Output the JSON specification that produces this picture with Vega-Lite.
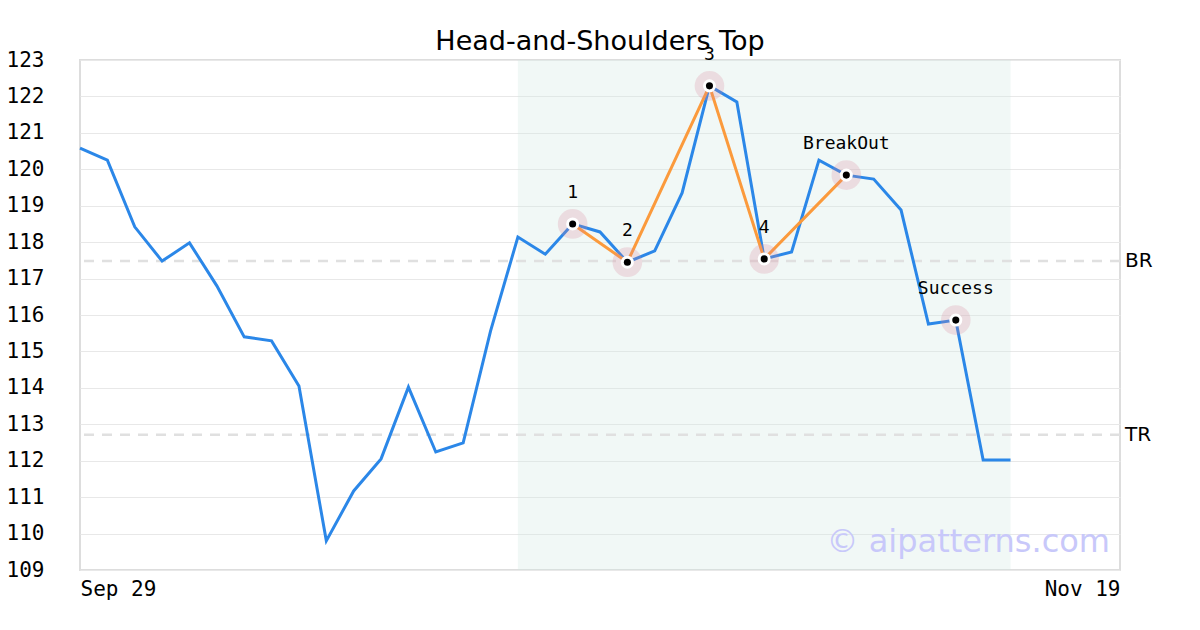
{
  "$schema": "https://vega.github.io/schema/vega-lite/v6.json",
  "width": 1040,
  "height": 510,
  "autosize": "none",
  "padding": {"left": 80, "top": 60, "right": 80, "bottom": 60},
  "background": "white",
  "title": {"text": "Head-and-Shoulders Top", "font": "DejaVu Sans", "fontSize": 27, "fontWeight": "normal", "color": "black", "anchor": "middle", "offset": -10},
  "config": {
    "view": {"stroke": "#dddddd", "strokeWidth": 2},
    "axis": {"labelFont": "DejaVu Sans Mono", "labelFontSize": 21, "labelColor": "black", "ticks": false, "domain": false, "title": null, "labelOverlap": false}
  },
  "datasets": {
    "price": [
      {"i": 0, "v": 120.58}, {"i": 1, "v": 120.25}, {"i": 2, "v": 118.42}, {"i": 3, "v": 117.48},
      {"i": 4, "v": 117.98}, {"i": 5, "v": 116.8}, {"i": 6, "v": 115.4}, {"i": 7, "v": 115.29},
      {"i": 8, "v": 114.05}, {"i": 9, "v": 109.8}, {"i": 10, "v": 111.17}, {"i": 11, "v": 112.05},
      {"i": 12, "v": 114.02}, {"i": 13, "v": 112.24}, {"i": 14, "v": 112.49}, {"i": 15, "v": 115.56},
      {"i": 16, "v": 118.14}, {"i": 17, "v": 117.67}, {"i": 18, "v": 118.5}, {"i": 19, "v": 118.28},
      {"i": 20, "v": 117.45}, {"i": 21, "v": 117.76}, {"i": 22, "v": 119.35}, {"i": 23, "v": 122.29},
      {"i": 24, "v": 121.85}, {"i": 25, "v": 117.54}, {"i": 26, "v": 117.73}, {"i": 27, "v": 120.25},
      {"i": 28, "v": 119.84}, {"i": 29, "v": 119.73}, {"i": 30, "v": 118.88}, {"i": 31, "v": 115.75},
      {"i": 32, "v": 115.86}, {"i": 33, "v": 112.02}, {"i": 34, "v": 112.02}
    ],
    "pattern": [
      {"i": 18, "v": 118.5, "label": "1", "link": true},
      {"i": 20, "v": 117.45, "label": "2", "link": true},
      {"i": 23, "v": 122.29, "label": "3", "link": true},
      {"i": 25, "v": 117.54, "label": "4", "link": true},
      {"i": 28, "v": 119.84, "label": "BreakOut", "link": true},
      {"i": 32, "v": 115.86, "label": "Success", "link": false}
    ],
    "levels": [
      {"name": "BR", "v": 117.48},
      {"name": "TR", "v": 112.71}
    ],
    "zone": [{"start": 16, "end": 34}]
  },
  "layer": [
    {
      "data": {"name": "zone"},
      "mark": {"type": "rect", "color": "#cfe9e0", "opacity": 0.3},
      "encoding": {
        "x": {"field": "start", "type": "quantitative", "scale": {"domain": [0, 38], "nice": false, "zero": false},
              "axis": {"values": [0, 38], "labelExpr": "datum.value == 0 ? 'Sep 29' : 'Nov 19'", "labelFlush": true, "labelOverlap": false, "grid": false, "labelPadding": 8}},
        "x2": {"field": "end"}
      }
    },
    {
      "data": {"name": "levels"},
      "mark": {"type": "rule", "color": "#e0e0e0", "strokeWidth": 2.5, "strokeDash": [10, 8]},
      "encoding": {
        "y": {"field": "v", "type": "quantitative", "scale": {"domain": [109, 123], "nice": false, "zero": false},
              "axis": {"values": [109,110,111,112,113,114,115,116,117,118,119,120,121,122,123], "format": "d", "tickCount": 20, "labelOverlap": false, "labelBound": false, "grid": true, "gridColor": "#e8e8e8", "gridWidth": 1, "labelPadding": 36}}
      }
    },
    {
      "data": {"name": "levels"},
      "mark": {"type": "text", "align": "left", "baseline": "middle", "dx": 5, "font": "DejaVu Sans", "fontSize": 20, "color": "black"},
      "encoding": {
        "x": {"datum": 38, "type": "quantitative"},
        "y": {"field": "v", "type": "quantitative"},
        "text": {"field": "name"}
      }
    },
    {
      "data": {"name": "price"},
      "mark": {"type": "line", "color": "#2b87e8", "strokeWidth": 3},
      "encoding": {
        "x": {"field": "i", "type": "quantitative"},
        "y": {"field": "v", "type": "quantitative"}
      }
    },
    {
      "data": {"name": "pattern"},
      "transform": [{"filter": "datum.link"}],
      "mark": {"type": "line", "color": "#fb9a3c", "strokeWidth": 3},
      "encoding": {
        "x": {"field": "i", "type": "quantitative"},
        "y": {"field": "v", "type": "quantitative"}
      }
    },
    {
      "data": {"name": "pattern"},
      "mark": {"type": "circle", "color": "#d8849c", "opacity": 0.24, "size": 880},
      "encoding": {
        "x": {"field": "i", "type": "quantitative"},
        "y": {"field": "v", "type": "quantitative"}
      }
    },
    {
      "data": {"name": "pattern"},
      "mark": {"type": "circle", "color": "white", "opacity": 1, "size": 170},
      "encoding": {
        "x": {"field": "i", "type": "quantitative"},
        "y": {"field": "v", "type": "quantitative"}
      }
    },
    {
      "data": {"name": "pattern"},
      "mark": {"type": "circle", "color": "black", "opacity": 1, "size": 50},
      "encoding": {
        "x": {"field": "i", "type": "quantitative"},
        "y": {"field": "v", "type": "quantitative"}
      }
    },
    {
      "data": {"name": "pattern"},
      "mark": {"type": "text", "align": "center", "baseline": "middle", "dy": -31, "font": "DejaVu Sans Mono", "fontSize": 18, "color": "black"},
      "encoding": {
        "x": {"field": "i", "type": "quantitative"},
        "y": {"field": "v", "type": "quantitative"},
        "text": {"field": "label"}
      }
    },
    {
      "data": {"values": [{"t": "© aipatterns.com"}]},
      "mark": {"type": "text", "align": "right", "baseline": "alphabetic", "dx": -10, "dy": -18, "font": "DejaVu Sans", "fontSize": 32, "color": "#c8c8fa"},
      "encoding": {
        "x": {"datum": 38, "type": "quantitative"},
        "y": {"datum": 109, "type": "quantitative"},
        "text": {"field": "t"}
      }
    }
  ]
}
